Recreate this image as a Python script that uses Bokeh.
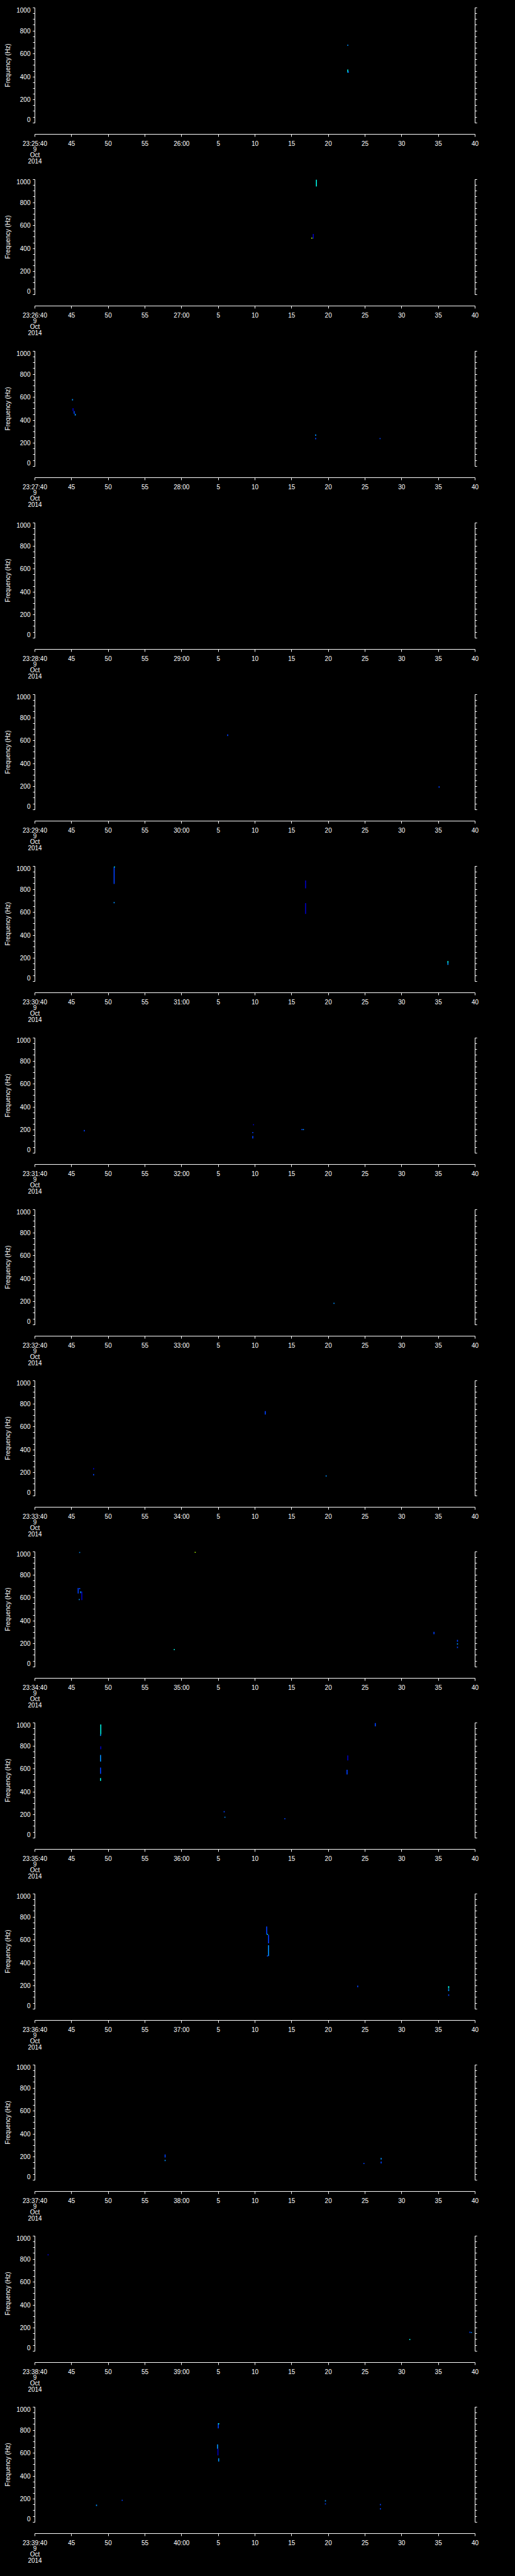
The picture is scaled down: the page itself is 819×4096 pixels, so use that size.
from bokeh.plotting import figure
from bokeh.models import (LinearAxis, FixedTicker, Range1d, Title,
                          ColumnDataSource, LinearColorMapper)
from bokeh.layouts import column
from bokeh.embed import file_html
from bokeh.resources import INLINE

# ---------------- data ----------------
panel_minutes = list(range(25, 40))          # each panel starts at 23:MM:40
tick_seconds = list(range(0, 61, 5))          # seconds from panel start
date_text = "9\nOct\n2014"
freq_ticks = [0, 200, 400, 600, 800, 1000]
freq_minor = list(range(0, 1001, 50))
level_palette = ["#0000c0", "#0040ff", "#0090ff", "#00f0e0", "#b0ff00"]

# spectrogram blobs: panel index, time (s after panel start), freq low/high (Hz), intensity level
blob_panel = [0, 0, 0,
              1, 1, 1,
              2, 2, 2, 2, 2, 2, 2,
              4, 4,
              5, 5, 5, 5, 5, 5, 5,
              6, 6, 6, 6, 6, 6,
              7,
              8, 8, 8, 8,
              9, 9, 9, 9, 9, 9, 9, 9, 9, 9, 9, 9,
              10, 10, 10, 10, 10, 10, 10, 10, 10, 10, 10, 10,
              11, 11, 11, 11, 11, 11, 11, 11, 11,
              12, 12, 12, 12, 12,
              13, 13, 13, 13,
              14, 14, 14, 14, 14, 14, 14, 14, 14, 14, 14]
blob_time = [42.65, 42.65, 42.75,
             38.37, 37.95, 37.75,
             5.13, 5.2, 5.35, 5.5, 38.27, 38.27, 47.05,
             26.28, 55.1,
             10.8, 10.85, 10.8, 36.9, 36.9, 56.3, 56.3,
             6.74, 29.8, 29.7, 29.7, 36.4, 36.6,
             40.77,
             31.4, 8.0, 8.0, 39.7,
             6.1, 21.85, 5.9, 6.1, 6.25, 6.4, 6.05, 19.0, 54.4, 57.6, 57.6, 57.6,
             8.98, 8.95, 8.98, 8.95, 8.95, 8.95, 46.4, 42.65, 42.55, 25.8, 25.9, 34.07,
             31.6, 31.7, 31.85, 31.85, 31.7, 44.0, 56.4, 56.4, 56.4,
             17.75, 17.75, 44.85, 47.2, 47.2,
             1.8, 51.1, 59.3, 59.5,
             25.0, 25.05, 24.9, 24.95, 25.05, 8.4, 11.9, 39.6, 39.6, 47.1, 47.1]
blob_f_lo = [670, 437, 437,
             940, 485, 485,
             572, 480, 455, 440, 264, 234, 235,
             640, 190,
             847, 990, 678, 808, 586, 160, 142,
             187, 240, 172, 126, 198, 198,
             180,
             706, 228, 176, 167,
             990, 992, 637, 675, 640, 580, 580, 145, 283, 218, 193, 163,
             900, 886, 770, 663, 557, 495, 970, 673, 551, 222, 175, 162,
             649, 644, 570, 460, 455, 188, 178, 154, 114,
             195, 164, 138, 178, 144,
             832, 95, 157, 157,
             815, 850, 638, 580, 526, 140, 184, 179, 153, 146, 109]
blob_f_hi = [680, 464, 447,
             1000, 526, 495,
             584, 505, 480, 456, 276, 246, 245,
             654, 202,
             995, 1000, 690, 877, 680, 176, 160,
             199, 250, 182, 147, 208, 208,
             190,
             736, 240, 188, 177,
             1000, 1002, 685, 685, 656, 654, 590, 155, 304, 234, 204, 175,
             987, 900, 796, 721, 611, 520, 1000, 717, 592, 232, 183, 171,
             717, 652, 644, 554, 465, 203, 198, 173, 126,
             221, 175, 147, 192, 160,
             843, 105, 168, 165,
             861, 861, 676, 638, 555, 152, 194, 190, 163, 157, 120]
blob_level = [3, 4, 2,
              4, 1, 5,
              3, 1, 2, 3, 3, 2, 2,
              2, 2,
              2, 4, 3, 1, 1, 4, 3,
              2, 1, 2, 2, 2, 3,
              3,
              2, 1, 2, 3,
              3, 5, 2, 2, 3, 1, 3, 4, 2, 2, 3, 2,
              4, 3, 1, 3, 2, 4, 2, 1, 2, 2, 3, 2,
              2, 4, 2, 3, 2, 2, 4, 3, 2,
              2, 3, 2, 3, 2,
              1, 4, 2, 3,
              2, 4, 3, 1, 3, 3, 2, 3, 2, 2, 2]

TIME_BIN = 0.14
FONT = "Liberation Sans"
FS = "10px"
WHITE = "white"

mapper = LinearColorMapper(palette=level_palette, low=0.5, high=5.5)

# end labels of the frequency axis sit inside the axis extent, as in the original
freq_label_overrides = {0: "0\n ", 1000: " \n1000"}

figs = []
n = len(panel_minutes)
for k, m in enumerate(panel_minutes):
    if k == 0:
        top_b = 12
    elif k >= 8:
        top_b = 19
    else:
        top_b = 20
    p = figure(width=803, frame_width=700, frame_height=201,
               min_border_left=52, min_border_right=51,
               min_border_top=top_b, min_border_bottom=52,
               x_range=Range1d(0, 60), y_range=Range1d(-100, 1000),
               output_backend="svg", toolbar_location=None,
               background_fill_color="black", border_fill_color="black")
    p.outline_line_color = None
    p.xgrid.visible = False
    p.ygrid.visible = False

    # blobs
    idx = [i for i, pi in enumerate(blob_panel) if pi == k]
    src = ColumnDataSource(dict(
        left=[blob_time[i] - TIME_BIN / 2 for i in idx],
        right=[blob_time[i] + TIME_BIN / 2 for i in idx],
        bottom=[blob_f_lo[i] for i in idx],
        top=[blob_f_hi[i] for i in idx],
        level=[blob_level[i] for i in idx],
    ))
    p.quad(left="left", right="right", bottom="bottom", top="top", source=src,
           fill_color={"field": "level", "transform": mapper}, line_color=None)

    # x axis
    labels = {}
    for s in tick_seconds:
        if s == 0:
            labels[s] = "23:%d:40\n%s" % (m, date_text)
        elif s == 20:
            labels[s] = "%d:00" % (m + 1)
        else:
            labels[s] = str((s + 40) % 60)
    xa = p.xaxis[0]
    xa.ticker = FixedTicker(ticks=tick_seconds, minor_ticks=[])
    xa.major_label_overrides = labels
    xa.axis_line_color = WHITE
    xa.major_tick_line_color = WHITE
    xa.major_tick_in = 0
    xa.major_tick_out = 4
    xa.minor_tick_line_color = None
    xa.major_label_standoff = 5
    xa.major_label_text_color = WHITE
    xa.major_label_text_font = FONT
    xa.major_label_text_font_size = FS
    xa.major_label_text_line_height = 0.85

    # left y axis
    ya = p.yaxis[0]
    ya.bounds = (0, 1000)
    ya.ticker = FixedTicker(ticks=freq_ticks, minor_ticks=freq_minor)
    ya.major_label_overrides = freq_label_overrides
    ya.axis_line_color = WHITE
    ya.major_tick_line_color = WHITE
    ya.minor_tick_line_color = WHITE
    ya.major_tick_in = 0
    ya.major_tick_out = 3
    ya.minor_tick_in = 0
    ya.minor_tick_out = 3
    ya.major_label_standoff = 4
    ya.major_label_text_color = WHITE
    ya.major_label_text_font = FONT
    ya.major_label_text_font_size = FS
    ya.major_label_text_line_height = 0.8

    # right y axis (ticks only)
    ra = LinearAxis(bounds=(0, 1000),
                    ticker=FixedTicker(ticks=freq_ticks, minor_ticks=freq_minor),
                    axis_line_color=WHITE, major_tick_line_color=WHITE,
                    minor_tick_line_color=WHITE, major_tick_in=0, major_tick_out=3,
                    minor_tick_in=0, minor_tick_out=3,
                    major_label_text_color=None, major_label_text_font_size="1px")
    p.add_layout(ra, "right")

    # y title
    p.add_layout(Title(text="Frequency (Hz)", align="right", offset=57,
                       vertical_align="middle", standoff=10,
                       text_color=WHITE, text_font=FONT, text_font_size=FS,
                       text_font_style="normal"), "left")
    figs.append(p)

layout = column(*figs, spacing=0, background="black")
html = file_html(layout, INLINE, title="spectrogram")
html = html.replace("<body>", '<body style="background:black;">')
open("out.html", "w").write(html)
